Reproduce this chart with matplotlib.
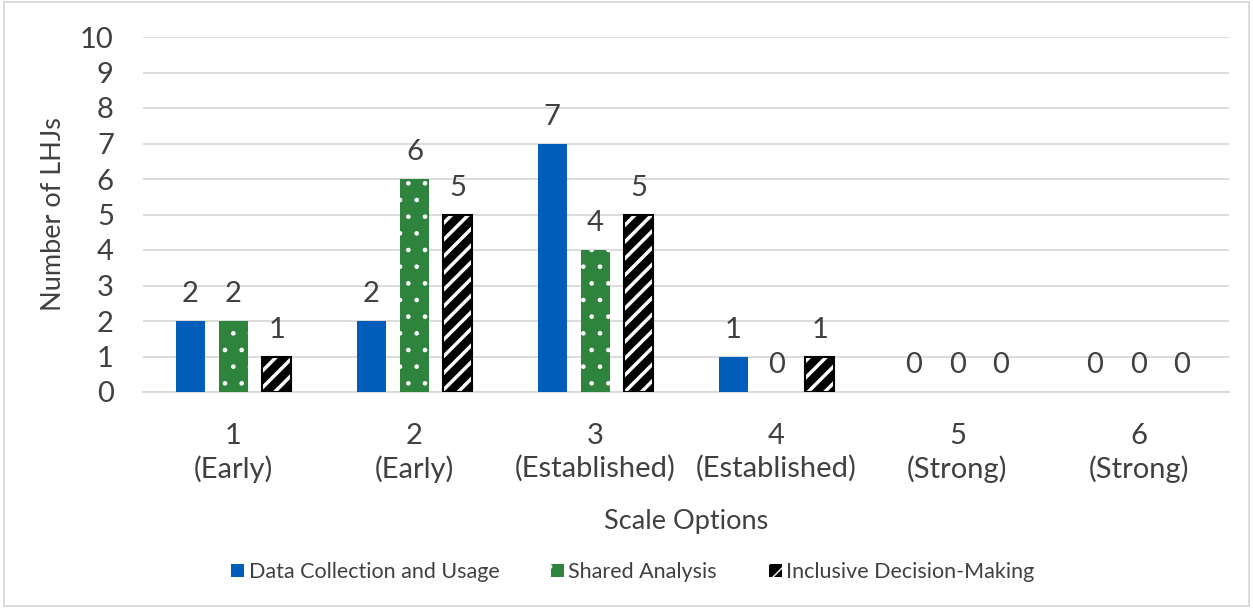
import matplotlib.pyplot as plt
import numpy as np
from matplotlib.patches import Patch

plt.rcParams['font.family'] = ['Lato', 'DejaVu Sans']

scale_labels = ['1\n(Early)', '2\n(Early)', '3\n(Established)', '4\n(Established)', '5\n(Strong)', '6\n(Strong)']
data_collection = [2, 2, 7, 1, 0, 0]
shared_analysis = [2, 6, 4, 0, 0, 0]
inclusive_dm = [1, 5, 5, 1, 0, 0]
series_names = ['Data Collection and Usage', 'Shared Analysis', 'Inclusive Decision-Making']

txt = '#404040'
blue = '#005DBA'
green = '#2E843D'

fig = plt.figure(figsize=(12.53, 6.08), dpi=100)
ax = fig.add_axes([143/1253, 1-392/608, 1086/1253, 355/608])

x = np.arange(1, len(scale_labels)+1)
w = 0.16
off = 0.24

ax.bar(x-off, data_collection, w, color=blue, zorder=3)
with plt.rc_context({'hatch.linewidth': 0.9}):
    ax.bar(x, shared_analysis, w, color=green, edgecolor='white', hatch='.', linewidth=0, zorder=3)
    h2 = Patch(facecolor=green, edgecolor='white', hatch='.', linewidth=0)
with plt.rc_context({'hatch.linewidth': 2.5}):
    ax.bar(x+off, inclusive_dm, w, color='black', edgecolor='white', hatch='//', linewidth=0, zorder=3)
    h3 = Patch(facecolor='black', edgecolor='white', hatch='//', linewidth=0)
# black outline on the striped bars (skip empty ones)
nz = np.array(inclusive_dm) > 0
ax.bar(x[nz]+off, np.array(inclusive_dm)[nz], w, color='none', edgecolor='black', linewidth=1.5, zorder=4)

for xs, vals in [(x-off, data_collection), (x, shared_analysis), (x+off, inclusive_dm)]:
    for xi, v in zip(xs, vals):
        ax.annotate(str(v), (xi, v), xytext=(0, 10), textcoords='offset points',
                    ha='center', va='bottom', fontsize=21, color=txt)

ax.set_xlim(0.5, 6.5)
ax.set_ylim(0, 10)
ax.set_yticks(range(0, 11))
ax.set_xticks(x)
ax.set_xticklabels(scale_labels, fontsize=21, color=txt, linespacing=1.3)
ax.tick_params(axis='y', labelsize=21, labelcolor=txt, length=0, pad=21)
ax.tick_params(axis='x', length=0, pad=22)
ax.grid(axis='y', color='#d9d9d9', linewidth=1.3, zorder=0)
for s in ['top', 'right', 'left']:
    ax.spines[s].set_visible(False)
ax.spines['bottom'].set_color('#d9d9d9')
ax.spines['bottom'].set_linewidth(1.3)

ax.set_ylabel('Number of LHJs', fontsize=19.5, color=txt, labelpad=10)
ax.set_xlabel('Scale Options', fontsize=19.5, color=txt, labelpad=19)

handles = [Patch(facecolor=blue), h2, h3]
fig.legend(handles, series_names, loc='center', bbox_to_anchor=(0.505, 1-572/608), ncol=3,
           frameon=False, fontsize=15.5, labelcolor=txt, handlelength=0.6, handleheight=0.6,
           handletextpad=0.2, columnspacing=2.4)

fig.patches.append(plt.Rectangle((0.003, 0.003), 0.994, 0.994, transform=fig.transFigure,
                                 fill=False, edgecolor='#d9d9d9', linewidth=1.3))

fig.savefig('out.png', dpi=100)
